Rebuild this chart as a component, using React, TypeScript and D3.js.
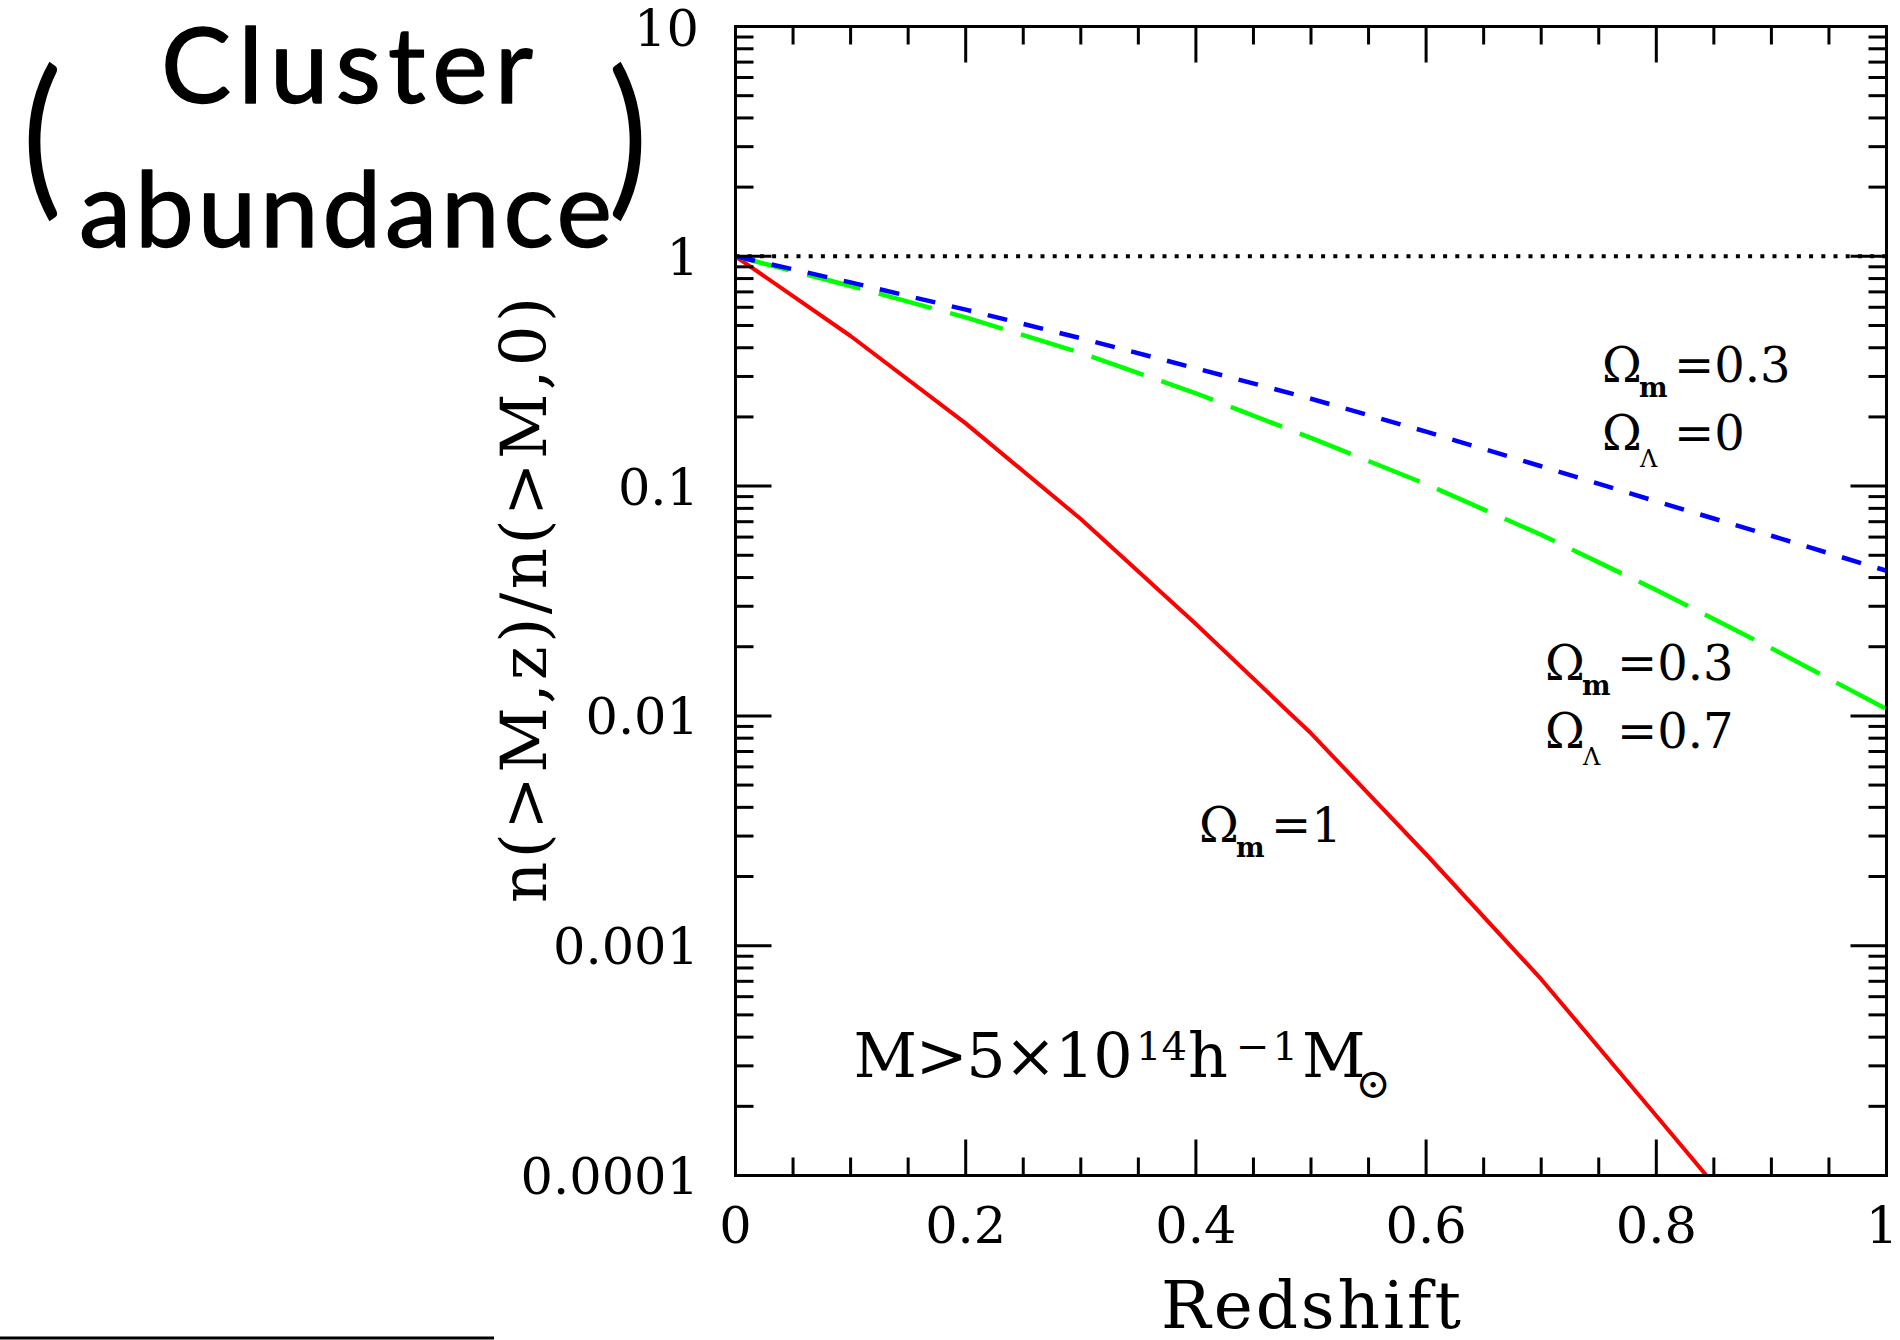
import React from 'react';
import * as d3 from 'd3';

// ---- data ----
const redshift = [0, 0.1, 0.2, 0.3, 0.4, 0.5, 0.6, 0.7, 0.8, 0.9, 1.0];
// Omega_m = 1 (red, solid)
const abundanceEdS = [1, 0.45, 0.1875, 0.0719, 0.0251, 0.0084, 0.0025, 0.000715, 0.000182, 0.000046];
// Omega_m = 0.3, Omega_L = 0 (blue, short dash)
const abundanceOpen = [1, 0.77, 0.586, 0.44, 0.3255, 0.24, 0.1725, 0.122, 0.0858, 0.0608, 0.0428];
// Omega_m = 0.3, Omega_L = 0.7 (green, long dash)
const abundanceLambda = [1, 0.743, 0.5426, 0.3797, 0.2535, 0.162, 0.102, 0.0614, 0.0353, 0.0197, 0.0107];

const xTickValues = [0, 0.2, 0.4, 0.6, 0.8, 1];
const xTickLabels = ['0', '0.2', '0.4', '0.6', '0.8', '1'];
const yTickValues = [0.0001, 0.001, 0.01, 0.1, 1, 10];
const yTickLabels = ['0.0001', '0.001', '0.01', '0.1', '1', '10'];

const SERIF = '"DejaVu Serif", serif';
const SANS = 'Lato, "Open Sans", sans-serif';

export default function App() {
  const W = 1900;
  const H = 1340;
  const L = 735.5, R = 1886.5, T = 26.5, B = 1175.5;

  const x = d3.scaleLinear().domain([0, 1]).range([L, R]);
  const y = d3.scaleLog().domain([0.0001, 10]).range([B, T]);

  const line = d3
    .line<[number, number]>()
    .x((d) => x(d[0]))
    .y((d) => y(d[1]));

  const mk = (vals: number[]) => vals.map((v, i) => [redshift[i], v] as [number, number]);

  const xMinor = d3.range(0, 21).filter((i) => i % 4 !== 0).map((i) => i * 0.05);
  const yAll = y.ticks();
  const isMajor = (v: number) => Math.abs(Math.log10(v) - Math.round(Math.log10(v))) < 1e-9;

  const MAJ = 36;
  const MIN = 18;
  const tw = 3;

  const omegaLabel = (ox: number, oy: number, sub: 'm' | 'Λ', rest: string, key: string) => (
    <g key={key}>
      <text x={ox} y={oy} fontSize={48}>Ω</text>
      {sub === 'm' ? (
        <text x={ox + 37} y={oy + 15} fontSize={27} fontWeight="bold">m</text>
      ) : (
        <text x={ox + 38} y={oy + 17} fontSize={24}>Λ</text>
      )}
      <text x={ox + 72} y={oy} fontSize={48}>{rest}</text>
    </g>
  );

  return (
    <svg
      width={W}
      height={H}
      viewBox={`0 0 ${W} ${H}`}
      style={{ position: 'absolute', left: 0, top: 0, background: '#fff' }}
    >
      <defs>
        <clipPath id="plotclip">
          <rect x={L} y={T} width={R - L} height={B - T} />
        </clipPath>
      </defs>
      <rect x={0} y={0} width={W} height={H} fill="#fff" />

      {/* Title block */}
      <g fontFamily={SANS} fill="#000">
        <text transform="translate(22,196) scale(1,1.15)" fontSize={150}>(</text>
        <text transform="translate(608,196) scale(1,1.15)" fontSize={150}>)</text>
        <g stroke="#000" strokeWidth={1.4} strokeLinejoin="round">
          <text x={161} y={103} fontSize={105} textLength={372} lengthAdjust="spacing">Cluster</text>
          <text x={79} y={247} fontSize={105} textLength={533} lengthAdjust="spacing">abundance</text>
        </g>
      </g>
      <rect x={0} y={1336.5} width={494} height={3} fill="#000" />

      {/* dotted reference line at 1 */}
      <line x1={L} x2={R} y1={y(1)} y2={y(1)} stroke="#000" strokeWidth={4} strokeDasharray="4 8.2" />

      {/* curves */}
      <g clipPath="url(#plotclip)" fill="none" strokeLinejoin="round">
        <path d={line(mk(abundanceEdS)) || ''} stroke="#ff0000" strokeWidth={4} />
        <path d={line(mk(abundanceLambda)) || ''} stroke="#00ff00" strokeWidth={4.5} strokeDasharray="55 19" />
        <path d={line(mk(abundanceOpen)) || ''} stroke="#0000ff" strokeWidth={4.5} strokeDasharray="20 17" />
      </g>

      {/* frame */}
      <rect x={L} y={T} width={R - L} height={B - T} fill="none" stroke="#000" strokeWidth={3} />

      {/* ticks */}
      <g stroke="#000" strokeWidth={tw}>
        {xTickValues.map((v) => (
          <g key={'xM' + v}>
            <line x1={x(v)} x2={x(v)} y1={B} y2={B - MAJ} />
            <line x1={x(v)} x2={x(v)} y1={T} y2={T + MAJ} />
          </g>
        ))}
        {xMinor.map((v) => (
          <g key={'xm' + v}>
            <line x1={x(v)} x2={x(v)} y1={B} y2={B - MIN} />
            <line x1={x(v)} x2={x(v)} y1={T} y2={T + MIN} />
          </g>
        ))}
        {yAll.map((v) => {
          const len = isMajor(v) ? MAJ : MIN;
          return (
            <g key={'y' + v}>
              <line x1={L} x2={L + len} y1={y(v)} y2={y(v)} />
              <line x1={R} x2={R - len} y1={y(v)} y2={y(v)} />
            </g>
          );
        })}
      </g>

      {/* tick labels */}
      <g fontFamily={SERIF} fontSize={51} fill="#000">
        {xTickValues.map((v, i) => (
          <text key={'xl' + v} x={Math.min(x(v), 1882)} y={1243} textAnchor="middle">{xTickLabels[i]}</text>
        ))}
        {yTickValues.map((v, i) => (
          <text key={'yl' + v} x={699} y={Math.max(y(v) + 18.5, 46)} textAnchor="end">{yTickLabels[i]}</text>
        ))}
      </g>

      {/* axis titles */}
      <text
        transform="translate(546,600) rotate(-90)"
        textAnchor="middle"
        fontFamily={SERIF}
        fontSize={64}
        textLength={606}
        lengthAdjust="spacing"
        fill="#000"
      >
        n(&gt;M,z)/n(&gt;M,0)
      </text>
      <text x={1311} y={1328} textAnchor="middle" fontFamily={SERIF} fontSize={66} textLength={300} lengthAdjust="spacing" fill="#000">
        Redshift
      </text>

      {/* curve annotations */}
      <g fontFamily={SERIF} fill="#000">
        {omegaLabel(1602, 382, 'm', '=0.3', 'a1')}
        {omegaLabel(1602, 450, 'Λ', '=0', 'a2')}
        {omegaLabel(1545, 680, 'm', '=0.3', 'b1')}
        {omegaLabel(1545, 748, 'Λ', '=0.7', 'b2')}
        {omegaLabel(1199, 842, 'm', '=1', 'c1')}

        <text x={853.6} y={1077} fontSize={62} textLength={279} lengthAdjust="spacing">M&gt;5×10</text>
        <text x={1136} y={1060} fontSize={40}>14</text>
        <text x={1188} y={1077} fontSize={62}>h</text>
        <text x={1236} y={1060} fontSize={40} textLength={62} lengthAdjust="spacing">−1</text>
        <text x={1302} y={1077} fontSize={62}>M</text>
        <text x={1373} y={1083} fontSize={42} textAnchor="middle" dominantBaseline="central">⊙</text>
      </g>
    </svg>
  );
}
